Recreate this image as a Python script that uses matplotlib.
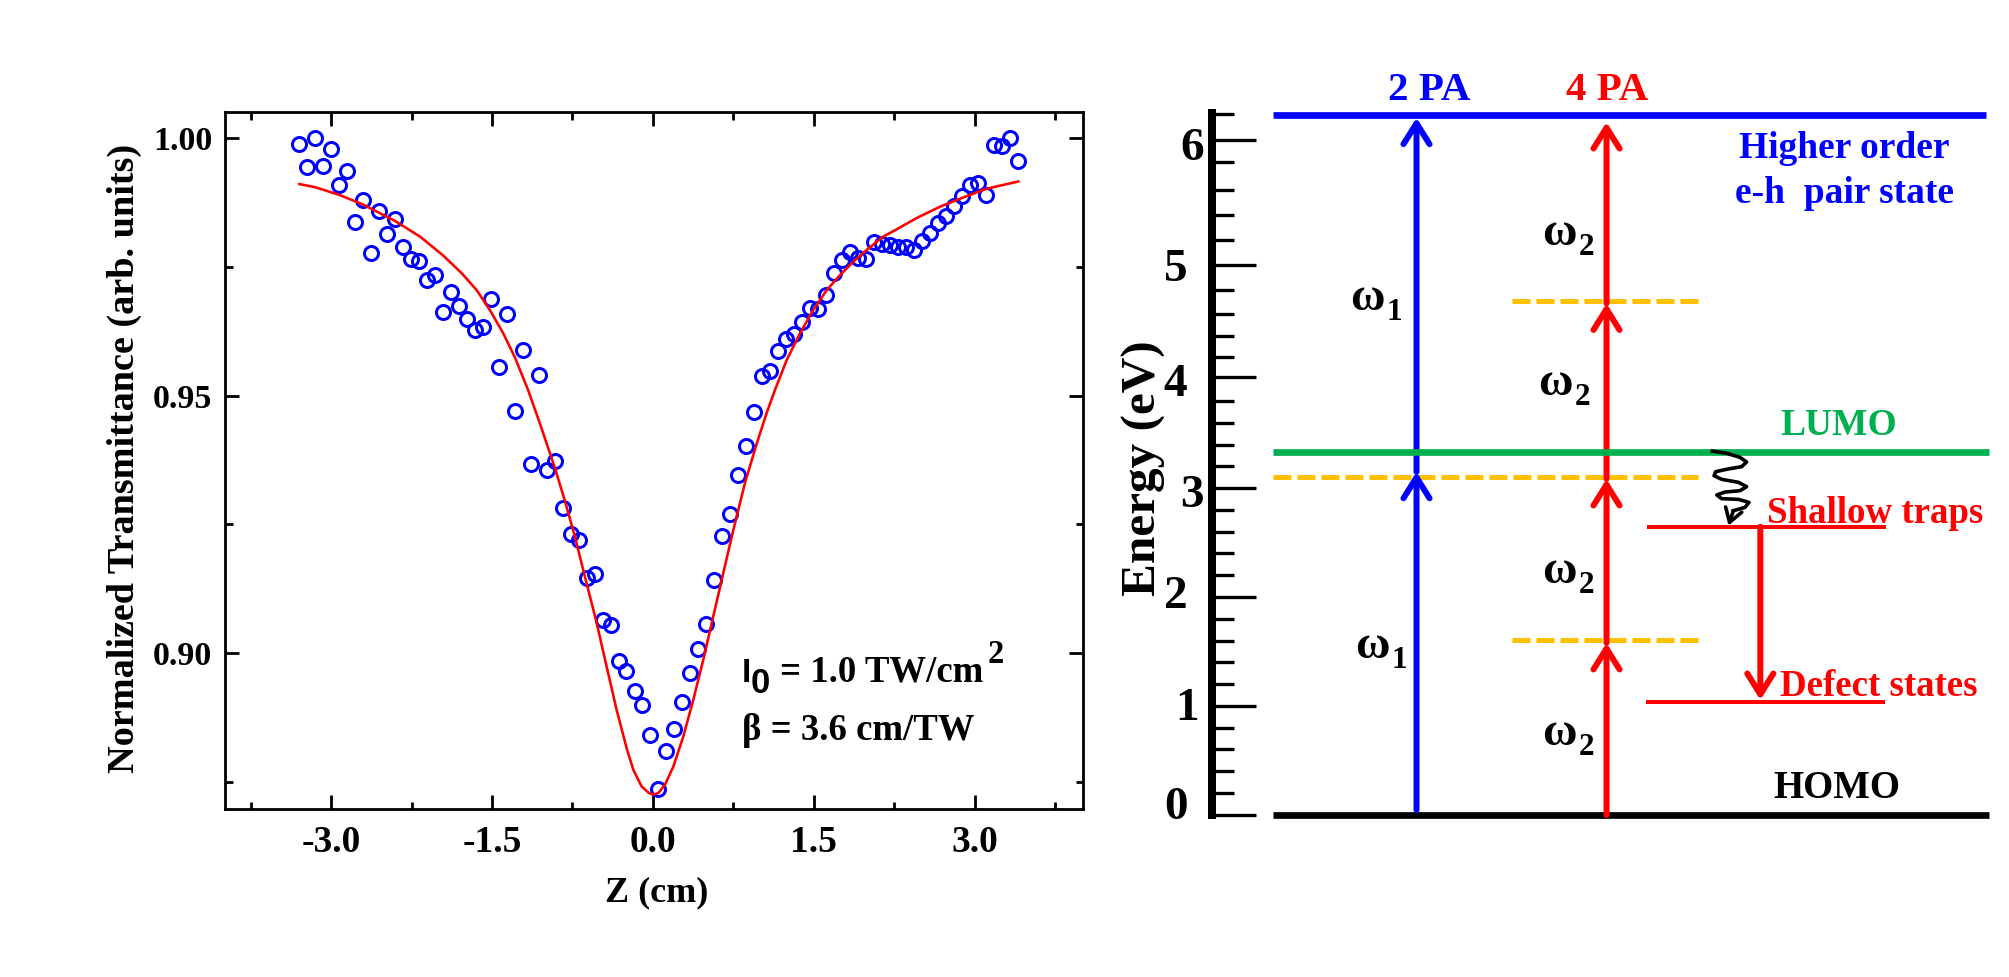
import matplotlib

matplotlib.use("Agg")
import matplotlib.pyplot as plt

plt.rcParams["font.family"] = ["Liberation Serif", "DejaVu Serif"]
plt.rcParams["font.weight"] = "bold"
plt.rcParams["axes.labelweight"] = "bold"

FIG_W = 2009
FIG_H = 977

# Z-scan data (left panel)
z_cm = [
    -3.296, -3.222, -3.147, -3.073, -2.999, -2.924, -2.850, -2.775, -2.701, -2.627,
    -2.552, -2.478, -2.404, -2.329, -2.255, -2.180, -2.106, -2.032, -1.957, -1.883,
    -1.809, -1.734, -1.660, -1.585, -1.511, -1.437, -1.362, -1.288, -1.214, -1.139,
    -1.065, -0.990, -0.916, -0.842, -0.767, -0.693, -0.619, -0.544, -0.470, -0.395,
    -0.321, -0.247, -0.172, -0.098, -0.024, 0.051, 0.125, 0.200, 0.274, 0.348,
    0.423, 0.497, 0.571, 0.646, 0.720, 0.795, 0.869, 0.943, 1.018, 1.092,
    1.166, 1.241, 1.315, 1.390, 1.464, 1.538, 1.613, 1.687, 1.761, 1.836,
    1.910, 1.985, 2.059, 2.133, 2.208, 2.282, 2.356, 2.431, 2.505, 2.580,
    2.654, 2.728, 2.803, 2.877, 2.951, 3.026, 3.100, 3.175, 3.249, 3.323,
    3.398,
]
transmittance = [
    0.9989, 0.9945, 1.0000, 0.9947, 0.9979, 0.9909, 0.9936, 0.9837, 0.9881, 0.9778,
    0.9859, 0.9814, 0.9843, 0.9788, 0.9765, 0.9761, 0.9725, 0.9734, 0.9663, 0.9701,
    0.9674, 0.9648, 0.9628, 0.9633, 0.9687, 0.9556, 0.9659, 0.9471, 0.9589, 0.9367,
    0.9540, 0.9356, 0.9373, 0.9281, 0.9231, 0.9220, 0.9145, 0.9154, 0.9064, 0.9055,
    0.8984, 0.8966, 0.8927, 0.8899, 0.8840, 0.8736, 0.8809, 0.8852, 0.8904, 0.8962,
    0.9007, 0.9057, 0.9141, 0.9227, 0.9271, 0.9345, 0.9403, 0.9468, 0.9539, 0.9548,
    0.9587, 0.9610, 0.9619, 0.9644, 0.9671, 0.9668, 0.9695, 0.9738, 0.9763, 0.9780,
    0.9767, 0.9766, 0.9798, 0.9795, 0.9793, 0.9789, 0.9788, 0.9783, 0.9800, 0.9816,
    0.9835, 0.9848, 0.9869, 0.9887, 0.9909, 0.9914, 0.9889, 0.9986, 0.9984, 1.0000,
    0.9955,
]
fit_z = [
    -3.296, -3.150, -2.923, -2.700, -2.401, -2.171, -1.954, -1.783, -1.643, -1.519,
    -1.395, -1.286, -1.162, -1.047, -0.910, -0.820, -0.727, -0.634, -0.531, -0.432,
    -0.339, -0.245, -0.183, -0.106, -0.037, 0.000, 0.050, 0.112, 0.189, 0.283,
    0.376, 0.469, 0.562, 0.655, 0.749, 0.857, 0.966, 1.059, 1.137, 1.246,
    1.370, 1.494, 1.619, 1.743, 1.867, 1.991, 2.147, 2.271, 2.457, 2.675,
    2.892, 3.110, 3.405,
]
fit_t = [
    0.9911, 0.9905, 0.9890, 0.9871, 0.9839, 0.9809, 0.9772, 0.9738, 0.9705, 0.9666,
    0.9621, 0.9574, 0.9510, 0.9442, 0.9357, 0.9295, 0.9226, 0.9148, 0.9064, 0.8974,
    0.8890, 0.8815, 0.8773, 0.8741, 0.8728, 0.8725, 0.8728, 0.8744, 0.8779, 0.8838,
    0.8909, 0.8987, 0.9071, 0.9155, 0.9239, 0.9330, 0.9406, 0.9466, 0.9511, 0.9569,
    0.9621, 0.9666, 0.9705, 0.9734, 0.9760, 0.9783, 0.9809, 0.9823, 0.9845, 0.9867,
    0.9885, 0.9902, 0.9916,
]
z_major = [-3.0, -1.5, 0.0, 1.5, 3.0]
z_minor = [-3.75, -2.25, -0.75, 0.75, 2.25, 3.75]
z_labels = ["-3.0", "-1.5", "0.0", "1.5", "3.0"]
t_major = [0.90, 0.95, 1.00]
t_minor = [0.875, 0.925, 0.975]
t_labels = ["0.90", "0.95", "1.00"]

# Energy diagram (right panel), x runs 0-100 across the panel
e_major = [0.0, 1.0, 1.997, 2.995, 4.01, 5.035, 6.18]
e_minor = [
    0.204, 0.405, 0.604, 0.799, 1.199, 1.403, 1.592, 1.793, 2.199, 2.397, 2.592, 2.793,
    3.196, 3.385, 3.589, 3.791, 4.193, 4.385, 4.584, 4.806, 5.264, 5.492, 5.721, 5.977,
    6.41,
]
e_labels = ["0", "1", "2", "3", "4", "5", "6"]
e_label_x = [-3.0, -1.7, -3.1, -1.0, -3.1, -3.1, -1.0]
e_label_y = [0.065, 0.97, 1.995, 2.915, 3.935, 4.985, 6.09]

homo_e = 0.0
lumo_e = 3.318
higher_e = 6.40
shallow_e = 2.637
defect_e = 1.037
virtual_long_e = 3.095
virtual_short_e = [4.70, 1.60]

blue_x = 25.66
blue_tips = [0.046, 3.14, 6.38]
red_x = 49.5
red_tips = [0.0, 1.574, 3.074, 4.68, 6.34]
decay_x = 68.8

squiggle_x = [
    62.78, 64.58, 66.25, 67.08, 66.46, 64.58, 63.20, 62.99, 63.95, 66.04,
    67.08, 66.25, 64.37, 63.33, 63.95, 66.04, 67.38, 66.88, 65.41,
]
squiggle_y = [
    3.330, 3.309, 3.272, 3.230, 3.187, 3.163, 3.141, 3.104, 3.071, 3.044,
    3.004, 2.967, 2.955, 2.928, 2.894, 2.888, 2.860, 2.815, 2.784,
]

BLUE = "#0000FF"
RED = "#FF0000"
GREEN = "#00B050"
AMBER = "#FFC000"


def px(width):
    return width * 72.0 / 100.0


fig = plt.figure(figsize=(FIG_W / 100, FIG_H / 100), dpi=100)

# left panel
ax = fig.add_axes([224.5 / FIG_W, (FIG_H - 809) / FIG_H, 858.2 / FIG_W, 697 / FIG_H])
ax.plot(z_cm, transmittance, "o", mfc="none", mec=BLUE, mew=px(3), ms=px(14), zorder=2)
ax.plot(fit_z, fit_t, color=RED, lw=px(2.6), zorder=3)
ax.set_xlim(-3.993, 4.005)
ax.set_ylim(0.8697, 1.0051)
ax.set_xticks(z_major)
ax.set_xticklabels(z_labels)
ax.set_xticks(z_minor, minor=True)
ax.set_yticks(t_major)
ax.set_yticklabels(t_labels)
ax.set_yticks(t_minor, minor=True)
ax.tick_params(which="major", direction="in", length=px(14), width=px(2.8), top=True, right=True)
ax.tick_params(axis="x", which="major", labelsize=27, pad=11.5)
ax.tick_params(axis="y", which="major", labelsize=24.5, pad=9)
ax.tick_params(which="minor", direction="in", length=px(7.5), width=px(2.8), top=True, right=True)
for spine in ax.spines.values():
    spine.set_linewidth(px(2.8))
ax.set_xlabel("Z (cm)", fontsize=26)
ax.xaxis.set_label_coords(0.504, -0.096)
ax.set_ylabel("Normalized Transmittance (arb. units)", fontsize=27.5)
ax.yaxis.set_label_coords(-0.0965, 0.503)

# the intensity note mixes a sans I0 with serif text, so it goes in pieces
ax.text(0.6027, 0.1826, "I", transform=ax.transAxes, fontsize=24, family="Liberation Sans")
ax.text(0.6132, 0.166, "0", transform=ax.transAxes, fontsize=25, family="Liberation Sans")
ax.text(0.6475, 0.1826, "= 1.0 TW/cm", transform=ax.transAxes, fontsize=26.5)
ax.text(0.8897, 0.2095, "2", transform=ax.transAxes, fontsize=23.5)
ax.text(0.6027, 0.099, "β = 3.6 cm/TW", transform=ax.transAxes, fontsize=26.5)

# right panel
ex = fig.add_axes([1212 / FIG_W, (FIG_H - 815) / FIG_H, (FIG_W - 1212) / FIG_W, 702 / FIG_H])
ex.set_xlim(0, 100)
ex.set_ylim(0, 702 / 109.3)
for name in ("top", "right", "bottom"):
    ex.spines[name].set_visible(False)
ex.spines["left"].set_linewidth(px(8))
ex.set_xticks([])
ex.set_yticks(e_major)
ex.set_yticklabels([])
ex.set_yticks(e_minor, minor=True)
ex.tick_params(which="major", direction="in", length=px(43.7), width=px(3.3))
ex.tick_params(which="minor", direction="in", length=px(22), width=px(3.3))
ex.patch.set_visible(False)

for label, lx, ly in zip(e_labels, e_label_x, e_label_y):
    ex.text(lx, ly, label, fontsize=34, ha="right", va="center", clip_on=False)
ex.text(-8.5, 3.175, "Energy (eV)", fontsize=35.5, rotation=90, ha="center", va="center")

ex.plot([7.65, 97.1], [higher_e, higher_e], color=BLUE, lw=px(6.7), solid_capstyle="butt", clip_on=False, zorder=2)
ex.plot([7.65, 97.5], [homo_e, homo_e], color="black", lw=px(6.7), solid_capstyle="butt", clip_on=False, zorder=2)

dash = (0, (3.6, 1.2))
ex.plot([7.65, 61.0], [virtual_long_e, virtual_long_e], color=AMBER, lw=px(5), ls=dash, zorder=2)
for level in virtual_short_e:
    ex.plot([37.6, 61.0], [level, level], color=AMBER, lw=px(5), ls=dash, zorder=2)
ex.plot([54.6, 84.6], [shallow_e, shallow_e], color=RED, lw=px(4), solid_capstyle="butt", zorder=2)
ex.plot([54.5, 84.4], [defect_e, defect_e], color=RED, lw=px(4), solid_capstyle="butt", zorder=2)


def arrow(x, y0, y1, color, lw=px(6), scale=20, xy0=None):
    start = xy0 if xy0 is not None else (x, y0)
    ex.annotate(
        "",
        xy=(x, y1),
        xytext=start,
        annotation_clip=False,
        zorder=3,
        arrowprops=dict(
            arrowstyle="->,head_length=0.75,head_width=0.47",
            color=color,
            lw=lw,
            shrinkA=0,
            shrinkB=0,
            mutation_scale=scale,
            capstyle="round",
        ),
    )


for y0, y1 in zip(blue_tips[:-1], blue_tips[1:]):
    arrow(blue_x, y0, y1, BLUE)
for y0, y1 in zip(red_tips[:-1], red_tips[1:]):
    arrow(red_x, y0, y1, RED)
arrow(decay_x, shallow_e, defect_e + 0.015, RED)

# LUMO goes over the arrows
ex.plot([7.65, 97.5], [lumo_e, lumo_e], color=GREEN, lw=px(6.7), solid_capstyle="butt", zorder=4)

ex.plot(squiggle_x, squiggle_y, color="black", lw=px(3.6), solid_joinstyle="round", zorder=5)
arrow(squiggle_x[-1] - 0.6, 0, shallow_e + 0.01, "black", lw=px(3.6), scale=13,
      xy0=(squiggle_x[-1], squiggle_y[-1]))

ex.text(27.2, 6.54, "2 PA", color=BLUE, fontsize=29.5, ha="center", va="baseline")
ex.text(49.6, 6.54, "4 PA", color=RED, fontsize=29.5, ha="center", va="baseline")
ex.text(79.3, 6.01, "Higher order", color=BLUE, fontsize=27, ha="center", va="baseline")
ex.text(79.3, 5.60, "e-h  pair state", color=BLUE, fontsize=27, ha="center", va="baseline")
ex.text(78.7, 3.477, "LUMO", color=GREEN, fontsize=27, ha="center", va="baseline")
ex.text(83.2, 2.672, "Shallow traps", color=RED, fontsize=26.6, ha="center", va="baseline", zorder=6)
ex.text(83.6, 1.089, "Defect states", color=RED, fontsize=26.6, ha="center", va="baseline", zorder=6)
ex.text(78.4, 0.156, "HOMO", color="black", fontsize=28, ha="center", va="baseline")


def omega(x, y, sub):
    # subscript sits lower and further out than mathtext would put it
    ex.text(x, y, "ω", fontsize=34, ha="left", va="baseline")
    ex.annotate(sub, xy=(x, y), xytext=(px(37), -px(10)), textcoords="offset points",
                fontsize=22.5, ha="left", va="baseline")


omega(17.3, 4.62, "1")
omega(17.9, 1.436, "1")
omega(41.4, 5.215, "2")
omega(40.9, 3.843, "2")
omega(41.4, 2.123, "2")
omega(41.4, 0.64, "2")

fig.savefig("out.png", dpi=100)
